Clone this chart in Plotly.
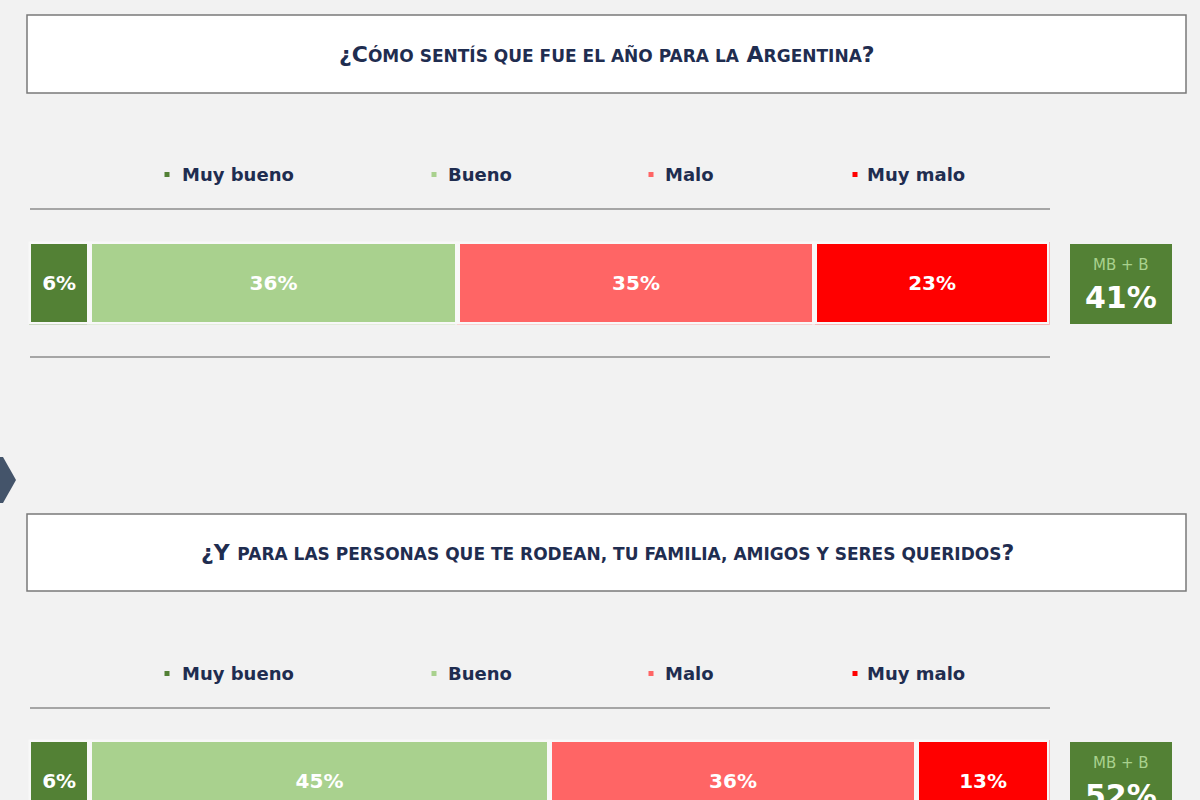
import plotly.graph_objects as go

# ---- data ----
categories = ["Muy bueno", "Bueno", "Malo", "Muy malo"]
argentina_vals = [6, 36, 35, 23]
personas_vals = [6, 45, 36, 13]
mbb_vals = [41, 52]
colors = ["#538135", "#a9d18e", "#ff6565", "#ff0000"]
titles = [
    "¿C<span style='font-size:17px'>ÓMO SENTÍS QUE FUE EL AÑO PARA LA</span> A<span style='font-size:17px'>RGENTINA</span>?",
    "¿Y <span style='font-size:17px'>PARA LAS PERSONAS QUE TE RODEAN, TU FAMILIA, AMIGOS Y SERES QUERIDOS</span>?",
]

W, H = 1200, 800
def fx(p):
    return p / W
def fy(p):
    return 1 - p / H

NAVY = "#1f2d50"
FONT = "DejaVu Sans"
fig = go.Figure()

series_sets = [argentina_vals, personas_vals]
for k, vals in enumerate(series_sets):
    xa = "x" if k == 0 else "x2"
    ya = "y" if k == 0 else "y2"
    for cat, v, c in zip(categories, vals, colors):
        fig.add_trace(go.Bar(
            x=[v], y=[0], orientation="h", name=cat,
            marker=dict(color=c, line=dict(color="#f8f8f8", width=5)),
            width=1,
            text=[f"{v}%"], textposition="inside", insidetextanchor="middle",
            textfont=dict(color="white", size=20, family=FONT, weight=700),
            xaxis=xa, yaxis=ya, showlegend=False, hoverinfo="skip",
        ))

xdom = [fx(28.5), fx(1049.5)]
axis_hidden = dict(showgrid=False, zeroline=False, showticklabels=False, showline=False, fixedrange=True)
fig.update_layout(
    width=W, height=H, margin=dict(l=0, r=0, t=0, b=0),
    paper_bgcolor="#f2f2f2", plot_bgcolor="rgba(0,0,0,0)",
    barmode="stack", showlegend=False,
    xaxis=dict(domain=xdom, range=[0, 100], **axis_hidden),
    yaxis=dict(domain=[fy(324.5), fy(241.5)], range=[-0.5, 0.5], **axis_hidden),
    xaxis2=dict(domain=xdom, range=[0, 100], anchor="y2", **axis_hidden),
    yaxis2=dict(domain=[0, fy(739.5)], range=[0.5 - 60.5 / 83, 0.5], anchor="x2", **axis_hidden),
)

shapes = []
annotations = []

blocks = [
    dict(box=(15, 93), legend_y=174, line1=209, line2=357, bar_top=244, bar_bot=324),
    dict(box=(514, 591), legend_y=673, line1=708, line2=None, bar_top=742, bar_bot=822),
]
legend_marker_x = [167, 434, 651, 855]
legend_text_x = [180, 446, 663, 865]

for k, b in enumerate(blocks):
    # title box
    shapes.append(dict(type="rect", xref="paper", yref="paper",
                       x0=fx(27), x1=fx(1186), y0=fy(b["box"][1]), y1=fy(b["box"][0]),
                       fillcolor="white", line=dict(color="#7a7a7a", width=1.5)))
    annotations.append(dict(xref="paper", yref="paper", x=fx(607), y=fy((b["box"][0] + b["box"][1]) / 2),
                            text=titles[k], showarrow=False, xanchor="center", yanchor="middle",
                            font=dict(family=FONT, size=22, color=NAVY, weight=700)))
    # legend
    for i, cat in enumerate(categories):
        shapes.append(dict(type="rect", xref="paper", yref="paper",
                           x0=fx(legend_marker_x[i] - 2.5), x1=fx(legend_marker_x[i] + 2.5),
                           y0=fy(b["legend_y"] + 3), y1=fy(b["legend_y"] - 2),
                           fillcolor=colors[i], line=dict(width=0)))
        annotations.append(dict(xref="paper", yref="paper", x=fx(legend_text_x[i]), y=fy(b["legend_y"]),
                                text=cat, showarrow=False, xanchor="left", yanchor="middle",
                                font=dict(family=FONT, size=18, color=NAVY, weight=700)))
    # separator lines
    for ly in [b["line1"], b["line2"]]:
        if ly is None:
            continue
        shapes.append(dict(type="line", xref="paper", yref="paper",
                           x0=fx(30), x1=fx(1050), y0=fy(ly), y1=fy(ly),
                           line=dict(color="#a6a6a6", width=2)))
    # MB + B box
    shapes.append(dict(type="rect", xref="paper", yref="paper",
                       x0=fx(1070), x1=fx(1172), y0=fy(b["bar_bot"]), y1=fy(b["bar_top"]),
                       fillcolor="#538135", line=dict(width=0)))
    annotations.append(dict(xref="paper", yref="paper", x=fx(1121), y=fy(b["bar_top"] + 21),
                            text="MB + B", showarrow=False, xanchor="center", yanchor="middle",
                            font=dict(family=FONT, size=15, color="#a9d18e")))
    annotations.append(dict(xref="paper", yref="paper", x=fx(1121), y=fy(b["bar_top"] + 53),
                            text=f"{mbb_vals[k]}%", showarrow=False, xanchor="center", yanchor="middle",
                            font=dict(family=FONT, size=30, color="white", weight=700)))

# chevron at left
shapes.append(dict(type="path", xref="paper", yref="paper",
                   path=f"M {fx(-6)} {fy(457)} L {fx(3)} {fy(457)} L {fx(16)} {fy(480)} L {fx(3)} {fy(503)} L {fx(-6)} {fy(503)} Z",
                   fillcolor="#44546a", line=dict(width=0)))

fig.update_layout(shapes=shapes, annotations=annotations)
fig.write_html("out.html", config={"displayModeBar": False},
               post_script="document.body.style.margin='0';document.body.style.overflow='hidden';")
